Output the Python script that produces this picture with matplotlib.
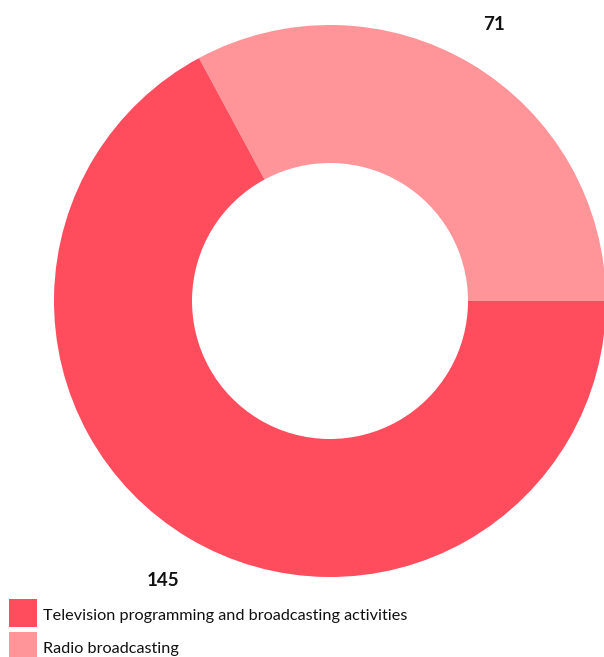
import matplotlib
matplotlib.use("Agg")
import matplotlib.pyplot as plt
from matplotlib.patches import Rectangle

categories = ["Television programming and broadcasting activities", "Radio broadcasting"]
values = [145, 71]
colors = ["#FF4D5E", "#FF9599"]

plt.rcParams['font.family'] = ['Lato', 'DejaVu Sans']

W, H = 604, 657
fig = plt.figure(figsize=(W / 100, H / 100), dpi=100)
cx, cy, r = 330, 301, 276
ax = fig.add_axes([(cx - r) / W, (H - cy - r) / H, 2 * r / W, 2 * r / H])

# radio drawn from 0 deg counterclockwise, TV follows
order = [1, 0]
wedges, _ = ax.pie([values[i] for i in order], colors=[colors[i] for i in order],
                   startangle=0, counterclock=True, radius=1,
                   wedgeprops=dict(width=0.5, linewidth=0))
for w in wedges:
    w.set_clip_on(False)
ax.set_xlim(-1, 1)
ax.set_ylim(-1, 1)
ax.set_aspect('equal')
ax.axis('off')

ax.text(0.594, 1.0, str(values[1]), ha='center', va='center', fontsize=13.5,
        fontweight='bold', color='#111111')
ax.text(-0.605, -1.011, str(values[0]), ha='center', va='center', fontsize=13.5,
        fontweight='bold', color='#111111')

# legend drawn in figure pixel coordinates
def fx(px):
    return px / W

def fy(py):
    return (H - py) / H

for i, (lab, c) in enumerate(zip(categories, colors)):
    top = 599 + 33 * i
    fig.patches.append(Rectangle((fx(9), fy(top + 28)), 28 / W, 28 / H,
                                 facecolor=c, edgecolor='none',
                                 transform=fig.transFigure, figure=fig))
    fig.text(fx(43), fy(top + 17), lab, ha='left', va='center', fontsize=11.7,
             color='#111111')

fig.savefig("out.png", dpi=100)
